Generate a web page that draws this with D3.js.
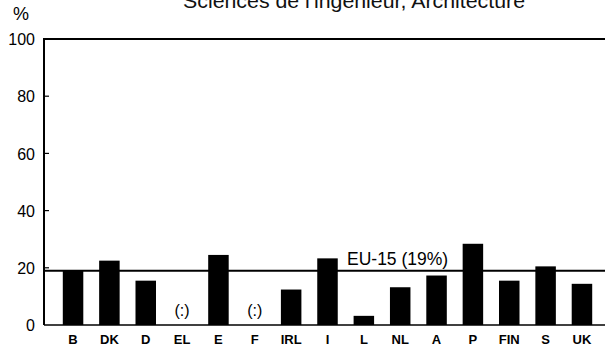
<!DOCTYPE html>
<html><head><meta charset="utf-8">
<script src="https://cdn.jsdelivr.net/npm/d3@7"></script>
<style>
body{margin:0;background:#fff;}
svg{display:block;font-family:"Liberation Sans",Arial,Helvetica,sans-serif;}
</style></head>
<body><svg id="c" width="605" height="348"></svg>
<script>
const categories = ["B","DK","D","EL","E","F","IRL","I","L","NL","A","P","FIN","S","UK"];
const values = [19, 22.5, 15.5, null, 24.5, null, 12.4, 23.3, 3.2, 13.2, 17.3, 28.4, 15.5, 20.5, 14.4];
const euValue = 19;
const euLabel = "EU-15 (19%)";
const yTicks = [0, 20, 40, 60, 80, 100];
const missingLabel = "(:)";
const title = "Sciences de l'ingénieur, Architecture";

const svg = d3.select("#c");
const x = d3.scaleBand().domain(categories).range([44, 611]).paddingInner(0.436).paddingOuter(0.517);
const y = d3.scaleLinear().domain([0, 100]).range([325, 39]);

// title (cropped at top, as in the reference)
svg.append("text").attr("x", 183).attr("y", 8).attr("font-size", 21).attr("textLength", 342)
  .attr("lengthAdjust", "spacingAndGlyphs").attr("fill", "#111").text(title);
svg.append("text").attr("x", 13).attr("y", 20).attr("font-size", 18).text("%");

// bars
svg.selectAll("rect.bar").data(categories.map((c, i) => ({c, v: values[i]})).filter(d => d.v != null))
  .enter().append("rect").attr("class", "bar")
  .attr("x", d => x(d.c)).attr("width", x.bandwidth())
  .attr("y", d => y(d.v)).attr("height", d => y(0) - y(d.v)).attr("fill", "#000");

// missing markers
svg.selectAll("text.miss").data(categories.filter((c, i) => values[i] == null))
  .enter().append("text").attr("class", "miss")
  .attr("x", d => x(d) + x.bandwidth() / 2).attr("y", 316)
  .attr("text-anchor", "middle").attr("font-size", 16).text(missingLabel);

// frame lines
const g = svg.append("g").attr("stroke", "#000").attr("fill", "none");
g.append("line").attr("x1", 44).attr("x2", 605).attr("y1", y(100)).attr("y2", y(100)).attr("stroke-width", 2);
g.append("line").attr("x1", 44).attr("x2", 605).attr("y1", y(0)).attr("y2", y(0)).attr("stroke-width", 1.5);
g.append("line").attr("x1", 44).attr("x2", 44).attr("y1", y(100) - 1).attr("y2", y(0)).attr("stroke-width", 2);
// EU line
g.append("line").attr("x1", 44).attr("x2", 605).attr("y1", y(euValue)).attr("y2", y(euValue)).attr("stroke-width", 2);

// y axis ticks and labels
const yAxis = d3.axisLeft(y).tickValues(yTicks).tickSize(0).tickPadding(9);
const ya = svg.append("g").attr("transform", "translate(44,0)").call(yAxis);
ya.select(".domain").remove();
ya.selectAll("text").attr("font-size", 16).attr("font-family", "Liberation Sans, Arial, sans-serif").attr("fill", "#000").attr("dy", "0.35em");
svg.selectAll("line.tk").data(yTicks.filter(t => t > 0 && t < 100)).enter().append("line").attr("class", "tk")
  .attr("x1", 44).attr("x2", 49).attr("y1", d => y(d)).attr("y2", d => y(d)).attr("stroke", "#000").attr("stroke-width", 1.2);

// x axis labels
const xAxis = d3.axisBottom(x).tickSize(0).tickPadding(10);
const xa = svg.append("g").attr("transform", `translate(0,${y(0)})`).call(xAxis);
xa.select(".domain").remove();
xa.selectAll("text").attr("font-size", 13).attr("font-weight", "bold").attr("font-family", "Liberation Sans, Arial, sans-serif").attr("fill", "#000").attr("dy", "0.71em");

// EU label
svg.append("text").attr("x", 347).attr("y", 265).attr("font-size", 17.5).text(euLabel);
</script></body></html>
